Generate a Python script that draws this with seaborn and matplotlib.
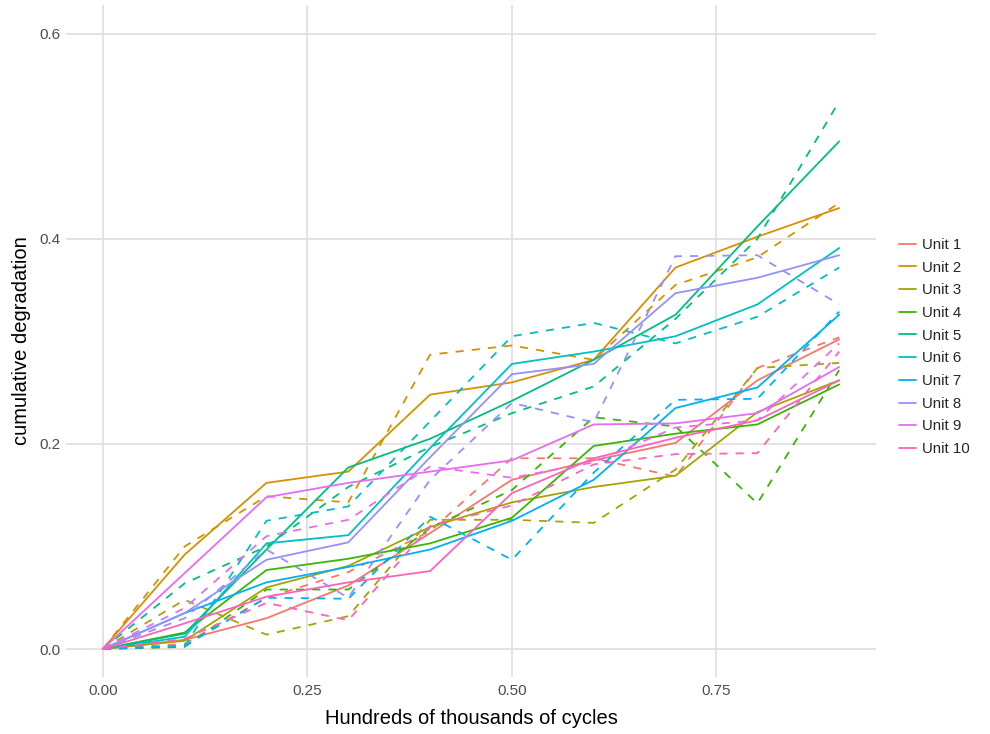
import numpy as np
import pandas as pd
import matplotlib
matplotlib.use("Agg")
import matplotlib.pyplot as plt
import seaborn as sns
from matplotlib.lines import Line2D

cycles = [0.0, 0.1, 0.2, 0.3, 0.4, 0.5, 0.6, 0.7, 0.8, 0.9]
units = [f"Unit {i}" for i in range(1, 11)]

# solid lines (observed degradation)
u1_s  = [0, 0.009, 0.030, 0.062, 0.113, 0.165, 0.184, 0.201, 0.262, 0.302]
u2_s  = [0, 0.092, 0.162, 0.173, 0.248, 0.260, 0.282, 0.372, 0.402, 0.430]
u3_s  = [0, 0.008, 0.060, 0.081, 0.119, 0.143, 0.158, 0.169, 0.231, 0.262]
u4_s  = [0, 0.016, 0.077, 0.088, 0.103, 0.128, 0.198, 0.210, 0.219, 0.258]
u5_s  = [0, 0.015, 0.097, 0.177, 0.205, 0.242, 0.282, 0.326, 0.412, 0.495]
u6_s  = [0, 0.012, 0.103, 0.111, 0.196, 0.278, 0.290, 0.305, 0.336, 0.391]
u7_s  = [0, 0.035, 0.065, 0.080, 0.097, 0.125, 0.165, 0.235, 0.255, 0.326]
u8_s  = [0, 0.035, 0.087, 0.104, 0.187, 0.268, 0.278, 0.347, 0.362, 0.384]
u9_s  = [0, 0.074, 0.148, 0.162, 0.173, 0.184, 0.219, 0.220, 0.230, 0.275]
u10_s = [0, 0.025, 0.051, 0.065, 0.076, 0.152, 0.186, 0.206, 0.223, 0.262]

# dashed lines (second series)
u1_d  = [0, 0.005, 0.050, 0.075, 0.115, 0.186, 0.186, 0.168, 0.274, 0.304]
u2_d  = [0, 0.100, 0.149, 0.143, 0.287, 0.296, 0.282, 0.355, 0.382, 0.435]
u3_d  = [0, 0.048, 0.014, 0.032, 0.126, 0.126, 0.123, 0.175, 0.274, 0.279]
u4_d  = [0, 0.002, 0.058, 0.058, 0.118, 0.155, 0.226, 0.217, 0.142, 0.272]
u5_d  = [0, 0.064, 0.100, 0.158, 0.197, 0.230, 0.256, 0.322, 0.400, 0.534]
u6_d  = [0, 0.003, 0.125, 0.139, 0.222, 0.305, 0.318, 0.298, 0.324, 0.372]
u7_d  = [0, 0.003, 0.050, 0.049, 0.129, 0.087, 0.172, 0.243, 0.244, 0.329]
u8_d  = [0, 0.030, 0.097, 0.050, 0.165, 0.240, 0.221, 0.383, 0.384, 0.336]
u9_d  = [0, 0.040, 0.110, 0.126, 0.178, 0.167, 0.182, 0.216, 0.223, 0.298]
u10_d = [0, 0.010, 0.045, 0.028, 0.120, 0.140, 0.180, 0.190, 0.191, 0.290]

solid = [u1_s, u2_s, u3_s, u4_s, u5_s, u6_s, u7_s, u8_s, u9_s, u10_s]
dashed = [u1_d, u2_d, u3_d, u4_d, u5_d, u6_d, u7_d, u8_d, u9_d, u10_d]

colors = ["#F8766D", "#D89000", "#A3A500", "#39B600", "#00BF7D",
          "#00BFC4", "#00B0F6", "#9590FF", "#E76BF3", "#FF62BC"]

rows = []
for u, s, d in zip(units, solid, dashed):
    for x, v in zip(cycles, s):
        rows.append((u, "observed", x, v))
    for x, v in zip(cycles, d):
        rows.append((u, "other", x, v))
df = pd.DataFrame(rows, columns=["unit", "kind", "cycles", "degradation"])

sns.set_theme(style="whitegrid")
plt.rcParams["font.family"] = ["Liberation Sans", "DejaVu Sans"]

fig = plt.figure(figsize=(9.9, 7.34), dpi=100)
ax = fig.add_axes([66 / 990, 57 / 734, (876 - 66) / 990, (677 - 5) / 734])

palette = dict(zip(units, colors))
lw = 1.3
sns.lineplot(data=df, x="cycles", y="degradation", hue="unit", style="kind",
             hue_order=units, style_order=["observed", "other"],
             dashes={"observed": "", "other": (4.5, 4.5)},
             palette=palette, linewidth=lw, ax=ax, legend=False,
             estimator=None, sort=False)

ax.set_xlim(-0.045, 0.945)
ax.set_ylim(-0.0273, 0.628)
ax.set_xticks([0, 0.25, 0.5, 0.75])
ax.set_xticklabels(["0.00", "0.25", "0.50", "0.75"])
ax.set_yticks([0, 0.2, 0.4, 0.6])
ax.set_yticklabels(["0.0", "0.2", "0.4", "0.6"])
ax.grid(True, color="#DEDEDE", linewidth=1.2)
ax.set_facecolor("white")
for sp in ax.spines.values():
    sp.set_visible(False)
ax.tick_params(axis="x", length=0, labelsize=11, labelcolor="#4D4D4D", pad=5)
ax.tick_params(axis="y", length=0, labelsize=11, labelcolor="#4D4D4D", pad=4)
ax.set_xlabel("Hundreds of thousands of cycles", fontsize=14.5, color="black", labelpad=8)
ax.set_ylabel("cumulative degradation", fontsize=14.5, color="black", labelpad=6)

handles = [Line2D([0], [0], color=c, lw=lw) for c in colors]
leg = fig.legend(handles, units, loc="center left",
                 bbox_to_anchor=(899 / 990, (734 - 347) / 734),
                 frameon=False, fontsize=10.8, handlelength=1.1, handletextpad=0.4,
                 labelspacing=0.58, borderaxespad=0, borderpad=0)

fig.savefig("out.png", dpi=100)
